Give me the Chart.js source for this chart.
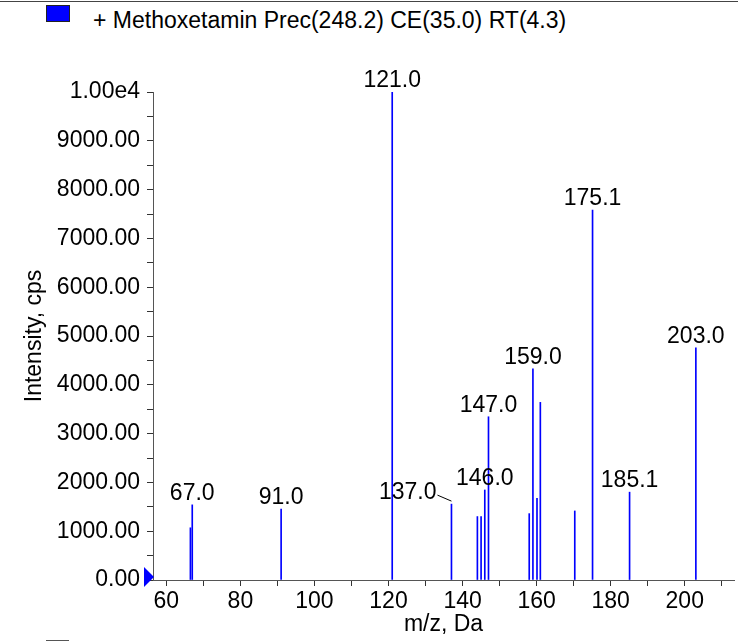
<!DOCTYPE html>
<html>
<head>
<meta charset="utf-8">
<script src="https://cdn.jsdelivr.net/npm/chart.js@4.4.1/dist/chart.umd.min.js"></script>
<style>
    body { margin: 0; background: #fff; }
    #wrap { position: relative; width: 738px; height: 642px; overflow: hidden; }
    #topLine { position: absolute; left: 0; top: 1px; width: 738px; height: 1px; background: #444; }
    #legendBox { position: absolute; left: 46px; top: 5px; width: 22px; height: 15px; background: #0000ff; border: 1px solid #222; }
    #legendText { position: absolute; left: 93px; top: 8.5px; font: 23px "Liberation Sans", Arial, sans-serif; line-height: 23px; color: #000; white-space: nowrap; }
    #nextBox { position: absolute; left: 46px; top: 640px; width: 23px; height: 1px; background: #555; }
    #myChart { position: absolute; left: 0; top: 0; }
</style>
</head>
<body>
<div id="wrap">
    <div id="topLine"></div>
    <div id="legendBox"></div>
    <div id="legendText">+ Methoxetamin Prec(248.2) CE(35.0) RT(4.3)</div>
    <div id="nextBox"></div>
    <canvas id="myChart" width="738" height="642"></canvas>
</div>
<script>
// peaks
const mzValues = [66.5, 67.0, 91.0, 121.0, 137.0, 144.0, 145.0, 146.0, 147.0, 158.0, 159.0, 160.1, 161.0, 170.3, 175.1, 185.1, 203.0];
const intensities = [1070, 1540, 1455, 10000, 1555, 1300, 1300, 1845, 3345, 1360, 4325, 1675, 3640, 1415, 7580, 1800, 4760];
const labelledMz = [67.0, 91.0, 121.0, 137.0, 146.0, 147.0, 159.0, 175.1, 185.1, 203.0];

const xTickValues = [60, 70, 80, 90, 100, 110, 120, 130, 140, 150, 160, 170, 180, 190, 200, 210];
const xTickLabels = ['60', '', '80', '', '100', '', '120', '', '140', '', '160', '', '180', '', '200', ''];
const yTickValues = [0, 500, 1000, 1500, 2000, 2500, 3000, 3500, 4000, 4500, 5000, 5500, 6000, 6500, 7000, 7500, 8000, 8500, 9000, 9500, 10000];
const yTickLabels = ['0.00', '', '1000.00', '', '2000.00', '', '3000.00', '', '4000.00', '', '5000.00', '', '6000.00', '', '7000.00', '', '8000.00', '', '9000.00', '', '1.00e4'];

const FONT = { family: '"Liberation Sans", Arial, sans-serif', size: 23 };

const peakLabels = {
    id: 'peakLabels',
    afterDatasetsDraw(chart) {
        const ctx = chart.ctx;
        const x = chart.scales.x;
        const y = chart.scales.y;
        ctx.save();
        ctx.font = FONT.size + 'px ' + FONT.family;
        ctx.fillStyle = '#000';
        ctx.textAlign = 'center';
        ctx.textBaseline = 'alphabetic';
        mzValues.forEach((mz, i) => {
            if (!labelledMz.includes(mz)) return;
            const px = x.getPixelForValue(mz);
            const py = y.getPixelForValue(intensities[i]);
            const text = mz.toFixed(1);
            if (mz === 137.0) {
                // label pushed left with a leader line
                ctx.textAlign = 'right';
                ctx.fillText(text, px - 15, py - 5);
                ctx.strokeStyle = '#000';
                ctx.lineWidth = 1;
                ctx.beginPath();
                ctx.moveTo(px - 14, py - 9);
                ctx.lineTo(px, py - 3);
                ctx.stroke();
                ctx.textAlign = 'center';
            } else {
                ctx.fillText(text, px, py - 5);
            }
        });
        // blue marker at the origin of the y axis
        const ax = chart.chartArea.left;
        const ay = y.getPixelForValue(0) - 3;
        ctx.fillStyle = '#0000ff';
        ctx.beginPath();
        ctx.moveTo(ax + 1, ay);
        ctx.lineTo(ax - 9, ay - 10);
        ctx.lineTo(ax - 9, ay + 10);
        ctx.closePath();
        ctx.fill();
        ctx.restore();
    }
};

const ctx = document.getElementById('myChart').getContext('2d');
new Chart(ctx, {
    type: 'bar',
    data: {
        datasets: [{
            label: 'Methoxetamin',
            data: mzValues.map((mz, i) => ({ x: mz, y: intensities[i] })),
            backgroundColor: '#0000ff',
            borderWidth: 0,
            barThickness: 1
        }]
    },
    options: {
        responsive: false,
        animation: false,
        devicePixelRatio: 1,
        layout: { padding: { top: 92, right: 4, left: 0, bottom: 0 } },
        plugins: {
            legend: { display: false },
            tooltip: { enabled: false }
        },
        scales: {
            x: {
                type: 'linear',
                offset: false,
                min: 56.4,
                max: 213.3,
                afterBuildTicks: axis => { axis.ticks = xTickValues.map(v => ({ value: v })); },
                afterFit: axis => { axis.height = 62; },
                ticks: {
                    autoSkip: false,
                    maxRotation: 0,
                    padding: 2,
                    color: '#000',
                    font: FONT,
                    callback: (v) => xTickLabels[xTickValues.indexOf(v)] || ''
                },
                grid: { offset: false, drawOnChartArea: false, tickLength: 6, color: '#333' },
                border: { color: '#555' },
                title: { display: true, text: 'm/z, Da', color: '#000', font: FONT, padding: { top: 0, bottom: 4 } }
            },
            y: {
                min: 0,
                max: 10000,
                afterBuildTicks: axis => { axis.ticks = yTickValues.map(v => ({ value: v })); },
                afterFit: axis => { axis.width = 153; },
                ticks: {
                    autoSkip: false,
                    padding: 7,
                    color: '#000',
                    font: FONT,
                    callback: (v) => yTickLabels[yTickValues.indexOf(v)] || ''
                },
                grid: { drawOnChartArea: false, tickLength: 6, color: '#333' },
                border: { color: '#555' },
                title: { display: true, text: 'Intensity, cps', color: '#000', font: FONT, padding: { top: 21, bottom: 0 } }
            }
        }
    },
    plugins: [peakLabels]
});
</script>
</body>
</html>
